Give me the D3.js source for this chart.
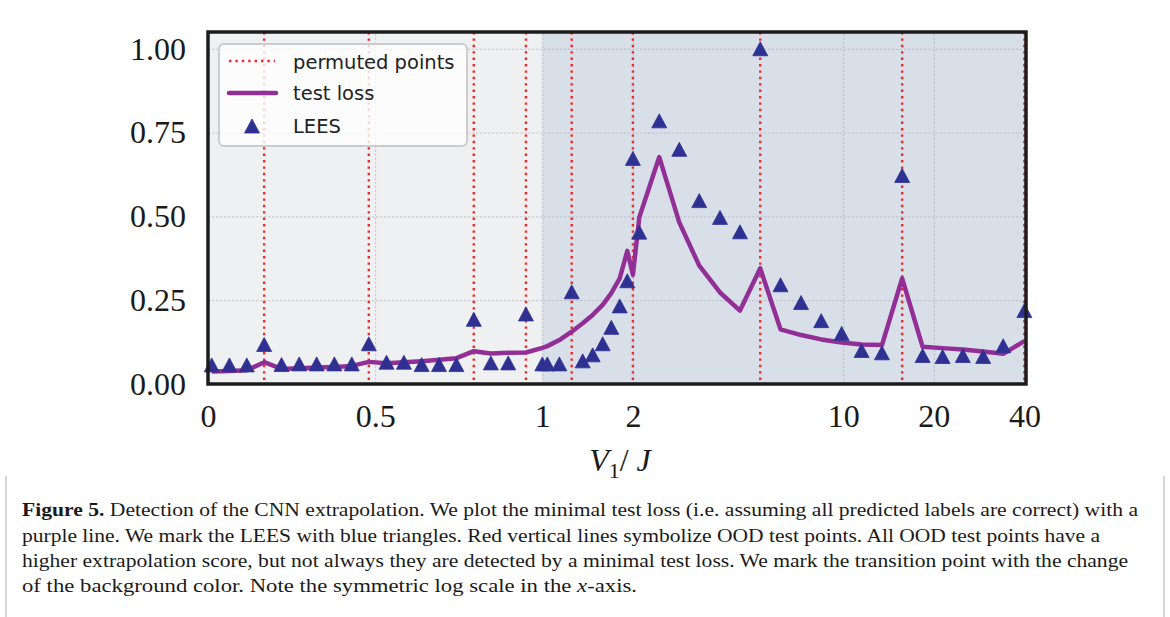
<!DOCTYPE html>
<html>
<head>
<meta charset="utf-8">
<script src="https://cdn.jsdelivr.net/npm/d3@7"></script>
<style>
body { margin: 0; background: #fff; }
</style>
</head>
<body>
<svg id="chart" width="1170" height="617"></svg>
<script>
// V1/J values of the test points (symlog axis, linear below 1)
var vValues = [0.011, 0.064, 0.116, 0.168, 0.220, 0.273, 0.325, 0.378, 0.430, 0.481,
  0.534, 0.586, 0.639, 0.691, 0.743, 0.795, 0.846, 0.898, 0.951, 1.0,
  1.039, 1.139, 1.252, 1.362, 1.470, 1.587, 1.695, 1.808, 1.916, 2.0, 2.10,
  2.447, 2.852, 3.323, 3.894, 4.538, 5.30, 6.19, 7.24, 8.45, 9.88,
  11.51, 13.45, 15.70, 18.36, 21.39, 24.98, 29.18, 34.01, 40];
var leesValues = [0.057, 0.057, 0.057, 0.118, 0.058, 0.060, 0.060, 0.060, 0.060, 0.120,
  0.065, 0.065, 0.058, 0.058, 0.058, 0.193, 0.063, 0.063, 0.209, 0.060,
  0.060, 0.060, 0.275, 0.069, 0.087, 0.120, 0.169, 0.233, 0.308, 0.673, 0.453,
  0.785, 0.700, 0.547, 0.497, 0.454, 1.000, 0.296, 0.243, 0.189, 0.151,
  0.100, 0.093, 0.622, 0.085, 0.082, 0.085, 0.082, 0.114, 0.219];
var lossValues = [0.037, 0.039, 0.041, 0.065, 0.045, 0.047, 0.049, 0.051, 0.054, 0.066,
  0.062, 0.065, 0.068, 0.072, 0.077, 0.098, 0.091, 0.093, 0.094, 0.108,
  0.113, 0.131, 0.156, 0.181, 0.206, 0.236, 0.271, 0.315, 0.397, 0.326, 0.497,
  0.677, 0.482, 0.353, 0.273, 0.219, 0.345, 0.163, 0.146, 0.133, 0.124,
  0.118, 0.116, 0.315, 0.111, 0.107, 0.103, 0.097, 0.090, 0.128];
var permutedV = [0.168, 0.481, 0.795, 0.951, 1.252, 2.0, 5.30, 15.70, 40];
var transitionV = 1;
var xTicks = [0, 0.5, 1, 2, 10, 20, 40];
var xTickLabels = ["0", "0.5", "1", "2", "10", "20", "40"];
var yTicks = [0, 0.25, 0.5, 0.75, 1];
var captionLines = [
  "Detection of the CNN extrapolation. We plot the minimal test loss (i.e. assuming all predicted labels are correct) with a",
  "purple line. We mark the LEES with blue triangles. Red vertical lines symbolize OOD test points. All OOD test points have a",
  "higher extrapolation score, but not always they are detected by a minimal test loss. We mark the transition point with the change",
  "of the background color. Note the symmetric log scale in the "
];

var plot = {left: 208, right: 1026, top: 32, bottom: 384};
var serif = "'Liberation Serif', 'DejaVu Serif', serif";
var sans = "'DejaVu Sans', sans-serif";

// matplotlib style symlog, linthresh 1, base 10
function symlog(v){
  var a = 1 / (1 - 0.1);
  return Math.abs(v) <= 1 ? v * a : Math.sign(v) * (a + Math.log10(Math.abs(v)));
}
var xT = d3.scaleLinear().domain([symlog(0), symlog(40.5)]).range([plot.left, plot.right]);
var x = function(v){ return xT(symlog(v)); };
var y = d3.scaleLinear().domain([0, 1.05]).range([plot.bottom, plot.top]);
var pw = plot.right - plot.left, ph = plot.bottom - plot.top;

var svg = d3.select("#chart");
svg.append("rect").attr("width", 1170).attr("height", 617).attr("fill", "#fff");

// backgrounds
svg.append("rect")
  .attr("x", plot.left).attr("y", plot.top)
  .attr("width", x(transitionV) - plot.left).attr("height", ph)
  .attr("fill", "#eff0f2");
svg.append("rect")
  .attr("x", x(transitionV)).attr("y", plot.top)
  .attr("width", plot.right - x(transitionV)).attr("height", ph)
  .attr("fill", "#d8dfe9");

// grid
var gx = svg.append("g")
  .attr("transform", "translate(0," + plot.bottom + ")")
  .call(d3.axisBottom(xT).tickValues(xTicks.map(symlog)).tickSize(-ph).tickFormat(""));
var gy = svg.append("g")
  .attr("transform", "translate(" + plot.left + ",0)")
  .call(d3.axisLeft(y).tickValues(yTicks).tickSize(-pw).tickFormat(""));
[gx, gy].forEach(function(g){
  g.select(".domain").remove();
  g.selectAll("line").attr("stroke", "#a9adb5").attr("stroke-width", 0.8)
    .attr("stroke-dasharray", "2.5,1.5").attr("opacity", 0.75);
});

// permuted points
svg.append("g").selectAll("line")
  .data(permutedV)
  .enter().append("line")
  .attr("x1", function(d){ return x(d); })
  .attr("x2", function(d){ return x(d); })
  .attr("y1", plot.top).attr("y2", plot.bottom)
  .attr("stroke", "#f42626").attr("stroke-width", 2.4)
  .attr("stroke-dasharray", "2.4,4");

// test loss
var line = d3.line()
  .x(function(d, i){ return x(vValues[i]); })
  .y(function(d){ return y(d); });
svg.append("path")
  .datum(lossValues)
  .attr("d", line)
  .attr("fill", "none")
  .attr("stroke", "#922f96")
  .attr("stroke-width", 4.5)
  .attr("stroke-linejoin", "round");

// LEES triangles
var tri = "M0,-7L7.5,7L-7.5,7Z";
svg.append("g").selectAll("path")
  .data(leesValues)
  .enter().append("path")
  .attr("d", tri)
  .attr("transform", function(d, i){ return "translate(" + x(vValues[i]) + "," + y(d) + ")"; })
  .attr("fill", "#2e3192")
  .attr("stroke", "#2e3192").attr("stroke-width", 0.8).attr("stroke-linejoin", "round");

// frame
svg.append("rect")
  .attr("x", plot.left).attr("y", plot.top)
  .attr("width", pw).attr("height", ph)
  .attr("fill", "none").attr("stroke", "#1c1c1c").attr("stroke-width", 3.5);

// tick labels
var ax = svg.append("g")
  .attr("transform", "translate(0," + plot.bottom + ")")
  .call(d3.axisBottom(xT).tickValues(xTicks.map(symlog)).tickSize(0).tickPadding(20)
    .tickFormat(function(d, i){ return xTickLabels[i]; }));
var ay = svg.append("g")
  .attr("transform", "translate(" + plot.left + ",0)")
  .call(d3.axisLeft(y).tickValues(yTicks).tickSize(0).tickPadding(22).tickFormat(d3.format(".2f")));
[ax, ay].forEach(function(g){
  g.select(".domain").remove();
  g.selectAll("text").attr("font-family", serif).attr("font-size", 32).attr("fill", "#1a1a1a");
});

var xl = svg.append("text")
  .attr("x", 620).attr("y", 471)
  .attr("text-anchor", "middle")
  .attr("font-family", serif).attr("font-size", 32).attr("fill", "#1a1a1a");
xl.append("tspan").attr("font-style", "italic").text("V");
xl.append("tspan").attr("font-size", 22).attr("dy", 7).text("1");
xl.append("tspan").attr("dy", -7).text("/ ");
xl.append("tspan").attr("font-style", "italic").text("J");

// legend
var lg = svg.append("g");
lg.append("rect")
  .attr("x", 219).attr("y", 44).attr("width", 248).attr("height", 102).attr("rx", 5)
  .attr("fill", "#fff").attr("fill-opacity", 0.8)
  .attr("stroke", "#cccccc").attr("stroke-width", 2);
lg.append("line").attr("x1", 229).attr("x2", 275).attr("y1", 61).attr("y2", 61)
  .attr("stroke", "#f42626").attr("stroke-width", 2.4).attr("stroke-dasharray", "2.4,4");
lg.append("line").attr("x1", 229).attr("x2", 276).attr("y1", 93).attr("y2", 93)
  .attr("stroke", "#922f96").attr("stroke-width", 4.5).attr("stroke-linecap", "round");
lg.append("path").attr("d", tri).attr("transform", "translate(252,126)")
  .attr("fill", "#2e3192").attr("stroke", "#2e3192").attr("stroke-width", 0.8).attr("stroke-linejoin", "round");
[["permuted points", 62], ["test loss", 93], ["LEES", 126]].forEach(function(e){
  lg.append("text").attr("x", 293).attr("y", e[1]).attr("dy", "0.35em")
    .attr("font-family", sans).attr("font-size", 19.5).attr("fill", "#222")
    .text(e[0]);
});

// caption
var capY = [516, 542, 567, 592];
var capW = [1116, 1078, 1106, 615];
captionLines.forEach(function(t, i){
  var tx = svg.append("text")
    .attr("x", 22).attr("y", capY[i])
    .attr("font-family", serif).attr("font-size", 18.5).attr("fill", "#1a1a1a")
    .attr("textLength", capW[i]).attr("lengthAdjust", "spacingAndGlyphs");
  if (i === 0) tx.append("tspan").attr("font-weight", "bold").text("Figure 5. ");
  tx.append("tspan").text(t);
  if (i === 3) {
    tx.append("tspan").attr("font-style", "italic").text("x");
    tx.append("tspan").text("-axis.");
  }
});

// page edges
svg.append("line").attr("x1", 6).attr("x2", 6).attr("y1", 476).attr("y2", 617)
  .attr("stroke", "#c8c8c8").attr("stroke-width", 1.5);
svg.append("line").attr("x1", 1164).attr("x2", 1164).attr("y1", 476).attr("y2", 617)
  .attr("stroke", "#c8c8c8").attr("stroke-width", 1.5);
</script>
</body>
</html>
